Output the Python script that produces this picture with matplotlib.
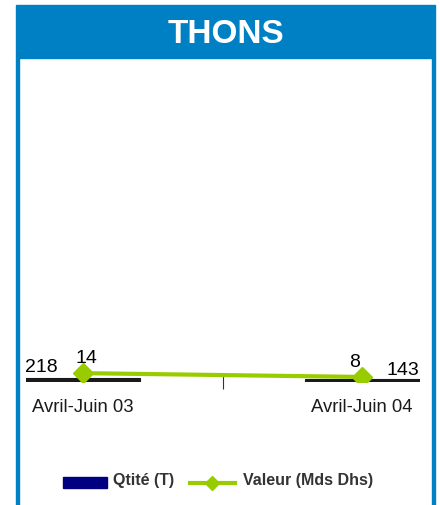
import numpy as np
import matplotlib.pyplot as plt
from matplotlib.patches import Rectangle
from matplotlib.lines import Line2D

plt.rcParams['font.family'] = ['Liberation Sans', 'DejaVu Sans']

categories = ['Avril-Juin 03', 'Avril-Juin 04']
qtite = [218, 143]
valeur = [14, 8]

W, H = 440, 505
fig = plt.figure(figsize=(W / 100, H / 100), dpi=100)

blue = '#0080C4'
green = '#99CC00'

# frame + header
fig.patches.append(Rectangle((16 / W, 0), 3 / W, 1 - 58 / H, transform=fig.transFigure,
                             color=blue, zorder=0))
fig.patches.append(Rectangle((432 / W, 0), 3 / W, 1 - 58 / H, transform=fig.transFigure,
                             color=blue, zorder=0))
fig.patches.append(Rectangle((16 / W, 1 - 58 / H), 419 / W, 53 / H, transform=fig.transFigure,
                             color=blue, zorder=0))
fig.text(226 / W, 1 - 34 / H, 'THONS', color='white', fontsize=24, fontweight='bold',
         ha='center', va='center')

# plot area
left, right, top, bottom = 26, 420, 60, 382
ax = fig.add_axes([left / W, 1 - bottom / H, (right - left) / W, (bottom - top) / H])
ax.patch.set_alpha(0)
x = np.arange(len(categories)) * 1.417 + 0.289
ax.bar(x, qtite, width=0.584, color='#1a1a1a', edgecolor='#1a1a1a', linewidth=0.8)
ax.set_xlim(0, 2)
ax.set_ylim(0, 17500)
for s in ax.spines.values():
    s.set_visible(False)
ax.set_yticks([])
ax.set_xticks([1.0])
ax.set_xticklabels([''])
ax.tick_params(axis='x', direction='inout', length=10, width=0.8, colors='#333333')

ax.text(x[0] - 0.292, 218 * 1.4, str(qtite[0]), ha='left', va='bottom', fontsize=14)
ax.text(x[1] + 0.292, 143 * 1.2, str(qtite[1]), ha='right', va='bottom', fontsize=14)
for xi, c in zip(x, categories):
    ax.text(xi, -950, c, ha='center', va='top', fontsize=13.3, color='#1a1a1a')

ax2 = ax.twinx()
for s in ax2.spines.values():
    s.set_visible(False)
ax2.set_yticks([])
ax2.plot(x, valeur, color=green, lw=3, marker='D', markersize=10, zorder=5)
ax2.set_ylim(0, 510)
ax2.text(x[0] + 0.02, valeur[0] + 9, str(valeur[0]), ha='center', va='bottom', fontsize=14)
ax2.text(x[1] - 0.04, valeur[1] + 9, str(valeur[1]), ha='center', va='bottom', fontsize=14)

# legend
fig.patches.append(Rectangle((63 / W, 1 - 488 / H), 44 / W, 11 / H, transform=fig.transFigure,
                             color='#000080'))
fig.text(113 / W, 1 - 481 / H, 'Qtité (T)', fontsize=11.5, fontweight='bold',
         va='center', color='#333333')
fig.lines.append(Line2D([190 / W, 235 / W], [1 - 483 / H, 1 - 483 / H], transform=fig.transFigure,
                        color=green, lw=3))
fig.lines.append(Line2D([212 / W], [1 - 483 / H], transform=fig.transFigure, color=green,
                        marker='D', markersize=7))
fig.text(243 / W, 1 - 481 / H, 'Valeur (Mds Dhs)', fontsize=11.5, fontweight='bold',
         va='center', color='#333333')

fig.savefig('out.png', dpi=100)
